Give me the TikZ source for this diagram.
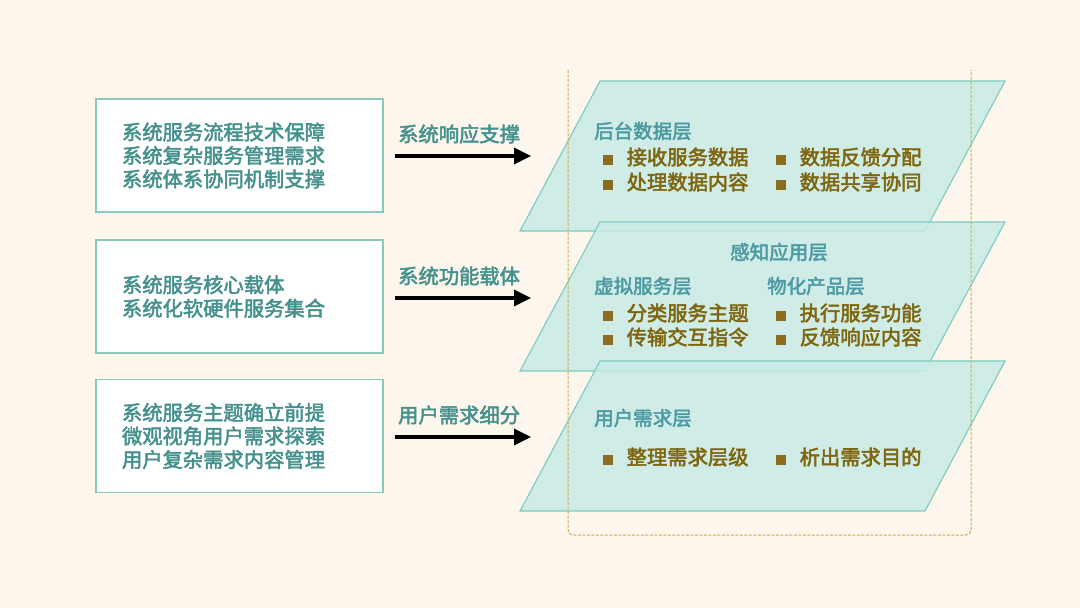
\documentclass[tikz,border=0pt]{standalone}
\usepackage{fontspec}
\setmainfont{Noto Sans CJK SC}[FakeBold=2.5]
\usetikzlibrary{arrows.meta}
\definecolor{bgc}{HTML}{FCF6EC}
\definecolor{boxline}{HTML}{8CC7BB}
\definecolor{lefttxt}{HTML}{45918D}
\definecolor{titletxt}{HTML}{4E9AA3}
\definecolor{bodytxt}{HTML}{7E6610}
\definecolor{bulc}{HTML}{8A6C1C}
\definecolor{layerfill}{HTML}{C9EBE6}
\definecolor{layerline}{HTML}{7CCBC2}
\definecolor{dashc}{HTML}{D2AC48}
\newcommand{\bul}{{\color{bulc}\rule{9.5pt}{9.5pt}}\hspace{14pt}}
\tikzset{
  leftbox/.style={draw=boxline, line width=1.1pt, fill=white, minimum width=287pt, minimum height=113pt,
    text width=235pt, inner xsep=26pt, align=left, text=lefttxt, font=\fontsize{20.3}{23.5}\selectfont},
  arrlabel/.style={anchor=west, text=lefttxt, font=\fontsize{20.3}{23.5}\selectfont, inner sep=0pt},
  arr/.style={line width=3.4pt, -{Triangle[length=17pt,width=16pt]}},
  layer/.style={fill=layerfill, fill opacity=0.85, draw=layerline, line width=1.1pt},
  ltitle/.style={anchor=west, text=titletxt, font=\fontsize{19.5}{23}\selectfont, inner sep=0pt},
  litem/.style={anchor=west, text=bodytxt, font=\fontsize{20.3}{23}\selectfont, inner sep=0pt},
}
\begin{document}
\begin{tikzpicture}[x=1pt,y=-1pt]
\useasboundingbox (0,0) rectangle (1080,608);
\fill[bgc] (0,0) rectangle (1080,608);

% left boxes
\node[leftbox] (b1) at (239.5,155.5) {系统服务流程技术保障\\系统复杂服务管理需求\\系统体系协同机制支撑};
\node[leftbox] (b2) at (239.5,296.5) {系统服务核心载体\\系统化软硬件服务集合};
\node[leftbox] (b3) at (239.5,436) {系统服务主题确立前提\\微观视角用户需求探索\\用户复杂需求内容管理};

% arrow labels and arrows
\node[arrlabel] (l1) at (398,134) {系统响应支撑};
\node[arrlabel] (l2) at (398,276) {系统功能载体};
\node[arrlabel] (l3) at (398,415) {用户需求细分};
\coordinate (a1s) at (395,156); \coordinate (a1e) at (531,156);
\coordinate (a2s) at (395,298); \coordinate (a2e) at (531,298);
\coordinate (a3s) at (395,437); \coordinate (a3e) at (531,437);
\draw[arr] (a1s) -- (a1e);
\draw[arr] (a2s) -- (a2e);
\draw[arr] (a3s) -- (a3e);

% layers
\draw[layer] (600,81) -- (1005,81) -- (925,231) -- (520,231) -- cycle;
\draw[layer] (600,222) -- (1005,222) -- (925,371) -- (520,371) -- cycle;
\draw[layer] (600,361) -- (1005,361) -- (925,511) -- (520,511) -- cycle;

% dashed frame
\draw[dashc, line width=1pt, dash pattern=on 3pt off 1.5pt, rounded corners=5pt]
  (568,70) -- (568,535) -- (971,535) -- (971,70);

% layer 1 text
\node[ltitle] (t1) at (594,131) {后台数据层};
\node[litem] (i11) at (603,157) {\bul 接收服务数据};
\node[litem] (i12) at (776,157) {\bul 数据反馈分配};
\node[litem] (i13) at (603,182) {\bul 处理数据内容};
\node[litem] (i14) at (776,182) {\bul 数据共享协同};

% layer 2 text
\node[ltitle, anchor=center] (t2) at (779,252) {感知应用层};
\node[ltitle] (t21) at (594,286) {虚拟服务层};
\node[ltitle] (t22) at (767,286) {物化产品层};
\node[litem] (i21) at (603,313) {\bul 分类服务主题};
\node[litem] (i22) at (776,313) {\bul 执行服务功能};
\node[litem] (i23) at (603,337) {\bul 传输交互指令};
\node[litem] (i24) at (776,337) {\bul 反馈响应内容};

% layer 3 text
\node[ltitle] (t3) at (594,418) {用户需求层};
\node[litem] (i31) at (603,457) {\bul 整理需求层级};
\node[litem] (i32) at (776,457) {\bul 析出需求目的};
\end{tikzpicture}
\end{document}
